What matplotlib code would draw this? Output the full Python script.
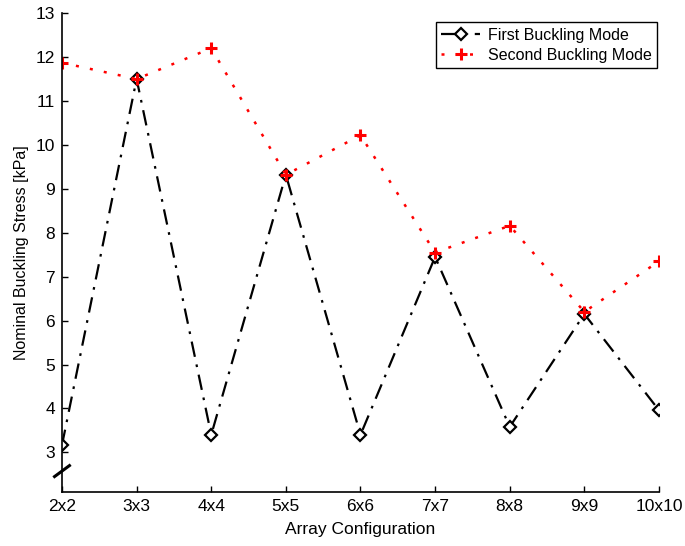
import numpy as np
import matplotlib.pyplot as plt

plt.rcParams['font.family'] = ['Liberation Sans', 'DejaVu Sans']

configs = ['2x2', '3x3', '4x4', '5x5', '6x6', '7x7', '8x8', '9x9', '10x10']
first_mode = [3.17, 11.50, 3.40, 9.32, 3.40, 7.45, 3.58, 6.15, 3.96]
second_mode = [11.87, 11.50, 12.20, 9.32, 10.22, 7.55, 8.16, 6.20, 7.35]

fig = plt.figure(figsize=(6.85, 5.46), dpi=100)
ax = fig.add_axes([0.0905, 0.099, 0.8715, 0.877])

x = np.arange(len(configs))
ax.plot(x, first_mode, color='black', linestyle=(0, (7, 3.5, 1.2, 3.5)), linewidth=1.6,
        marker='D', markersize=6, markerfacecolor='white', markeredgecolor='black',
        markeredgewidth=1.6, label='First Buckling Mode')
ax.plot(x, second_mode, color='red', linestyle=(0, (1.2, 4.5)), linewidth=1.8,
        marker='+', markersize=8, markeredgewidth=2.2, label='Second Buckling Mode')

ax.set_xlim(0, 8)
ax.set_ylim(2.1, 13)
ax.set_xticks(x)
ax.set_xticklabels(configs)
ax.set_yticks(range(3, 14))
ax.tick_params(direction='in', length=4, labelsize=12.5, width=1, pad=5)
ax.spines['top'].set_visible(False)
ax.spines['right'].set_visible(False)
for s in ['left', 'bottom']:
    ax.spines[s].set_linewidth(1.2)

# axis break mark on the y axis
ax.plot([-0.1, 0.1], [2.45, 2.7], color='black', linewidth=2.2, clip_on=False)

ax.set_xlabel('Array Configuration', fontsize=12.5, labelpad=6)
ax.set_ylabel('Nominal Buckling Stress [kPa]', fontsize=11.5, labelpad=5)

leg = ax.legend(loc='upper right', bbox_to_anchor=(0.997, 0.981), borderaxespad=0,
                fontsize=11.5, fancybox=False, edgecolor='black', framealpha=1,
                handlelength=2.4, borderpad=0.35, labelspacing=0.3, handletextpad=0.5)
leg.get_frame().set_linewidth(1.0)

fig.savefig('out.png', dpi=100)
